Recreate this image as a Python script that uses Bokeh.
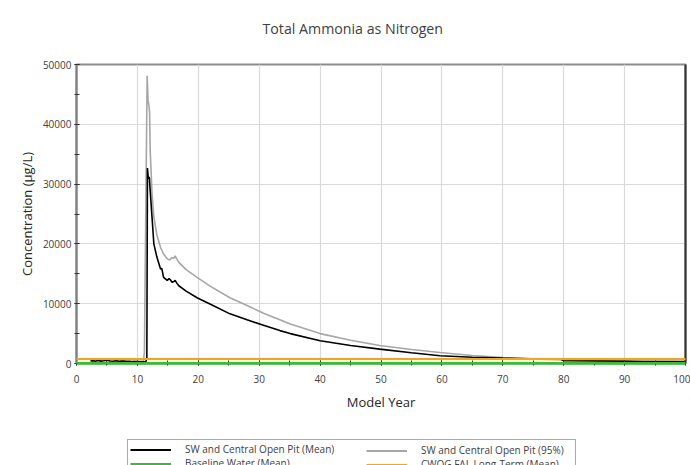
from bokeh.plotting import figure
from bokeh.layouts import column
from bokeh.models import (Range1d, SingleIntervalTicker, LinearAxis, FixedTicker,
                          Legend, LegendItem)
from bokeh.embed import file_html
from bokeh.resources import INLINE

title_text = "Total Ammonia as Nitrogen"
x_label = "Model Year"
y_label = "Concentration (µg/L)"

name_mean = "SW and Central Open Pit (Mean)"
name_p95 = "SW and Central Open Pit (95%)"
name_base = "Baseline Water (Mean)"
name_cwqg = "CWQG FAL Long-Term (Mean)"

years_mean = [2.3, 2.7, 3.1, 3.5, 4.0, 4.5, 5.0, 5.5, 6.0, 6.5, 7.0, 7.5, 8.0, 8.5, 9.0,
              9.5, 10.0, 10.5, 11.0, 11.4, 11.55, 11.65, 11.8, 11.95, 12.1, 12.4, 12.7,
              13.2, 13.8, 14.0, 14.3, 14.9, 15.2, 15.4, 15.7, 16.0, 16.2, 16.5, 16.8,
              18.0, 19.8, 22.0, 25.2, 28.0, 30.7, 33.4, 35.1, 40.0, 45.0, 49.8, 55.0,
              59.7, 65.0, 70.0, 75.0, 79.5, 80.0, 85.0, 90.0, 93.0, 95.0, 100.0]
conc_mean = [420, 480, 380, 520, 400, 450, 540, 420, 380, 470, 330, 400, 350, 320, 280,
             310, 290, 300, 300, 320, 900, 32700, 30900, 31200, 28900, 24500, 20000,
             17800, 15800, 15900, 14400, 13900, 14200, 14000, 13600, 13700, 13900, 13400,
             13000, 12100, 11000, 9900, 8300, 7300, 6400, 5500, 5000, 3800, 3000, 2400,
             1800, 1300, 1050, 900, 800, 750, 450, 420, 380, 300, 280, 270]

years_p95 = [2.3, 2.6, 3.0, 3.5, 4.0, 4.5, 5.0, 5.5, 6.0, 6.5, 7.0, 7.5, 8.0, 8.5, 9.0,
             9.5, 10.0, 10.5, 11.0, 11.15, 11.6, 11.75, 11.9, 12.0, 12.1, 12.4, 12.7,
             13.2, 13.8, 14.3, 14.9, 15.3, 15.7, 16.0, 16.2, 16.5, 16.8, 18.0, 19.8,
             22.0, 25.2, 28.0, 30.7, 33.4, 35.1, 40.0, 45.0, 49.8, 55.0, 59.7, 65.0,
             70.0, 75.0, 80.0, 85.0, 90.0, 95.0, 100.0]
conc_p95 = [550, 650, 600, 750, 620, 580, 700, 640, 760, 580, 520, 640, 480, 520, 420,
            380, 420, 360, 400, 1900, 48100, 44000, 43100, 42000, 35600, 28500, 24500,
            21500, 19400, 18300, 17500, 17300, 17700, 17600, 18000, 17400, 16900, 15700,
            14400, 12900, 11000, 9700, 8400, 7300, 6600, 5000, 3900, 3000, 2350, 1850,
            1350, 1000, 750, 600, 550, 500, 450, 400]

years_base = [0, 100]
conc_base = [60, 60]

years_cwqg = [0, 100]
conc_cwqg = [750, 750]

NAN = float("nan")

FONT = "Open Sans"
C_MEAN, C_P95, C_BASE, C_CWQG = "#000000", "#a6a6a6", "#22cc22", "#ffa500"

# ---- title strip ----
t = figure(width=690, height=40, output_backend="svg", toolbar_location=None,
           x_axis_type=None, y_axis_type=None, x_range=Range1d(0, 1),
           y_range=Range1d(0, 1), min_border_left=76, min_border_right=5,
           min_border_top=37, min_border_bottom=0, outline_line_color=None,
           background_fill_color="white", border_fill_color="white")
t.title.text = title_text
t.title.align = "left"
t.title.offset = 186
t.title.vertical_align = "bottom"
t.title.standoff = 0
t.title.text_font = FONT
t.title.text_font_size = "14.2px"
t.title.text_font_style = "normal"
t.title.text_color = "#404040"
t.xgrid.visible = False
t.ygrid.visible = False

# ---- main chart ----
p = figure(width=690, height=396, output_backend="svg", toolbar_location=None,
           title=None, x_range=Range1d(0, 100), y_range=Range1d(0, 50000),
           min_border_left=76, min_border_right=5, min_border_top=24,
           min_border_bottom=73, background_fill_color="white",
           border_fill_color="white")

p.outline_line_color = "#8c8c8c"
p.outline_line_width = 2

for ax in (p.xaxis[0], p.yaxis[0]):
    ax.axis_line_color = "#808080"
    ax.axis_line_width = 2
    ax.major_tick_line_color = "#333333"
    ax.minor_tick_line_color = "#333333"
    ax.major_tick_in = 3
    ax.major_tick_out = 2
    ax.minor_tick_in = 3
    ax.minor_tick_out = 2
    ax.major_label_text_font = FONT
    ax.major_label_text_font_size = "10px"
    ax.major_label_text_color = "#404040"
    ax.axis_label_text_font = FONT
    ax.axis_label_text_font_size = "13px"
    ax.axis_label_text_font_style = "normal"
    ax.axis_label_text_color = "#262626"

p.xaxis[0].ticker = SingleIntervalTicker(interval=10, num_minor_ticks=2)
p.yaxis[0].ticker = SingleIntervalTicker(interval=10000, num_minor_ticks=2)
p.xaxis[0].axis_label = x_label
p.yaxis[0].axis_label = y_label
p.xaxis[0].major_label_standoff = 9
p.xaxis[0].axis_label_standoff = 7
p.yaxis[0].major_label_standoff = 3
p.yaxis[0].axis_label_standoff = 4
p.yaxis[0].formatter.use_scientific = False

right_ax = LinearAxis(ticker=FixedTicker(ticks=[]), axis_line_color="#333333",
                      axis_line_width=2, major_tick_in=0, major_tick_out=0,
                      minor_tick_in=0, minor_tick_out=0, major_label_standoff=0,
                      axis_label_standoff=0)
p.add_layout(right_ax, "right")

p.xgrid.ticker = SingleIntervalTicker(interval=10)
p.ygrid.ticker = SingleIntervalTicker(interval=10000)
p.xgrid.grid_line_color = "#d9d9d9"
p.ygrid.grid_line_color = "#d9d9d9"
p.xgrid.grid_line_width = 1.2
p.ygrid.grid_line_width = 1.2

p.line(years_p95, conc_p95, line_color=C_P95, line_width=1.6)
p.line(years_mean, conc_mean, line_color=C_MEAN, line_width=1.6)
p.line(years_base, conc_base, line_color=C_BASE, line_width=2.2, level="annotation")
p.line(years_cwqg, conc_cwqg, line_color=C_CWQG, line_width=2.2, level="annotation")

# ---- legend strip ----
q = figure(width=690, height=29, output_backend="svg", toolbar_location=None,
           title=None, x_axis_type=None, y_axis_type=None, x_range=Range1d(0, 1),
           y_range=Range1d(0, 1), min_border_left=76, min_border_right=5,
           min_border_top=0, min_border_bottom=0,
           outline_line_color=None, background_fill_color="white",
           border_fill_color="white")
q.xgrid.visible = False
q.ygrid.visible = False
k_mean = q.line([NAN], [NAN], line_color=C_MEAN, line_width=2)
k_p95 = q.line([NAN], [NAN], line_color=C_P95, line_width=2)
k_base = q.line([NAN], [NAN], line_color=C_BASE, line_width=2.2)
k_cwqg = q.line([NAN], [NAN], line_color=C_CWQG, line_width=2.2)

common = dict(orientation="vertical", margin=0, padding=2, spacing=0,
              glyph_width=41, glyph_height=13, label_height=13, label_standoff=14,
              label_text_font=FONT, label_text_font_size="10px",
              label_text_color="#404040")
leg_a = Legend(items=[LegendItem(label=name_mean, renderers=[k_mean]),
                      LegendItem(label=name_base, renderers=[k_base])],
               location=(51, -8), label_width=388, border_line_color="#555555",
               border_line_width=1, background_fill_color="white",
               background_fill_alpha=1.0, **common)
leg_b = Legend(items=[LegendItem(label=name_p95, renderers=[k_p95]),
                      LegendItem(label=name_cwqg, renderers=[k_cwqg])],
               location=(288, -8), border_line_alpha=0, background_fill_alpha=0,
               **common)
q.add_layout(leg_a, "center")
q.add_layout(leg_b, "center")

layout = column(t, p, q, spacing=0)
open("out.html", "w").write(file_html(layout, INLINE))
